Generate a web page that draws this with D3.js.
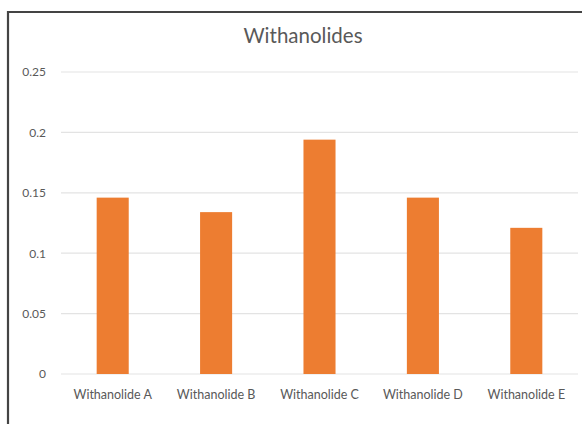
<!DOCTYPE html>
<html>
<head>
<meta charset="utf-8">
<script src="https://cdn.jsdelivr.net/npm/d3@7"></script>
<style>
  html, body { margin: 0; padding: 0; background: #fff; }
  svg { display: block; }
  text { font-family: Lato, "Open Sans", sans-serif; fill: #595959; }
</style>
</head>
<body>
<svg id="chart" width="582" height="424"></svg>
<script>
// Withanolide content per compound
const categories = ["Withanolide A", "Withanolide B", "Withanolide C", "Withanolide D", "Withanolide E"];
const values = [0.146, 0.134, 0.194, 0.146, 0.121];
const yTicks = [0, 0.05, 0.1, 0.15, 0.2, 0.25];
const yTickLabels = ["0", "0.05", "0.1", "0.15", "0.2", "0.25"];
const title = "Withanolides";

const svg = d3.select("#chart");
const W = 582, H = 424;
const margin = { left: 61, right: 4, top: 72, bottom: 50 };

// Chart frame
svg.append("path")
  .attr("d", `M8,${H + 2} L8,12 L${W + 2},12`)
  .attr("fill", "none")
  .attr("stroke", "#444")
  .attr("stroke-width", 2.2);

const x = d3.scaleBand()
  .domain(categories)
  .range([margin.left, W - margin.right])
  .paddingInner(0.69)
  .paddingOuter(0.345);

const y = d3.scaleLinear()
  .domain([0, 0.25])
  .range([374, 72]);

// Gridlines
svg.append("g")
  .selectAll("line")
  .data(yTicks)
  .join("line")
  .attr("x1", margin.left)
  .attr("x2", W - margin.right)
  .attr("y1", d => y(d))
  .attr("y2", d => y(d))
  .attr("stroke", "#e3e3e3")
  .attr("stroke-width", 1.2);

// Y axis labels
const yAxis = d3.axisLeft(y)
  .tickValues(yTicks)
  .tickFormat((d, i) => yTickLabels[i])
  .tickSize(0)
  .tickPadding(0);
svg.append("g")
  .attr("transform", `translate(46,0)`)
  .call(yAxis)
  .call(g => g.select(".domain").remove())
  .call(g => g.selectAll("text")
    .style("font-family", "Lato, 'Open Sans', sans-serif")
    .attr("font-size", 12)
    .attr("fill", "#5f5f5f"));

// Bars
svg.append("g")
  .selectAll("rect")
  .data(values)
  .join("rect")
  .attr("x", (d, i) => x(categories[i]))
  .attr("width", x.bandwidth())
  .attr("y", d => y(d))
  .attr("height", d => y(0) - y(d))
  .attr("fill", "#ed7d31");

// X axis labels
const xAxis = d3.axisBottom(x).tickSize(0).tickPadding(0);
svg.append("g")
  .attr("transform", `translate(0,390)`)
  .call(xAxis)
  .call(g => g.select(".domain").remove())
  .call(g => g.selectAll("text")
    .style("font-family", "Lato, 'Open Sans', sans-serif")
    .attr("font-size", 12.5)
    .attr("fill", "#5f5f5f"));

// Title
svg.append("text")
  .attr("x", 303)
  .attr("y", 43)
  .attr("text-anchor", "middle")
  .attr("font-size", 20.5)
  .attr("fill", "#5f5f5f")
  .text(title);
</script>
</body>
</html>
